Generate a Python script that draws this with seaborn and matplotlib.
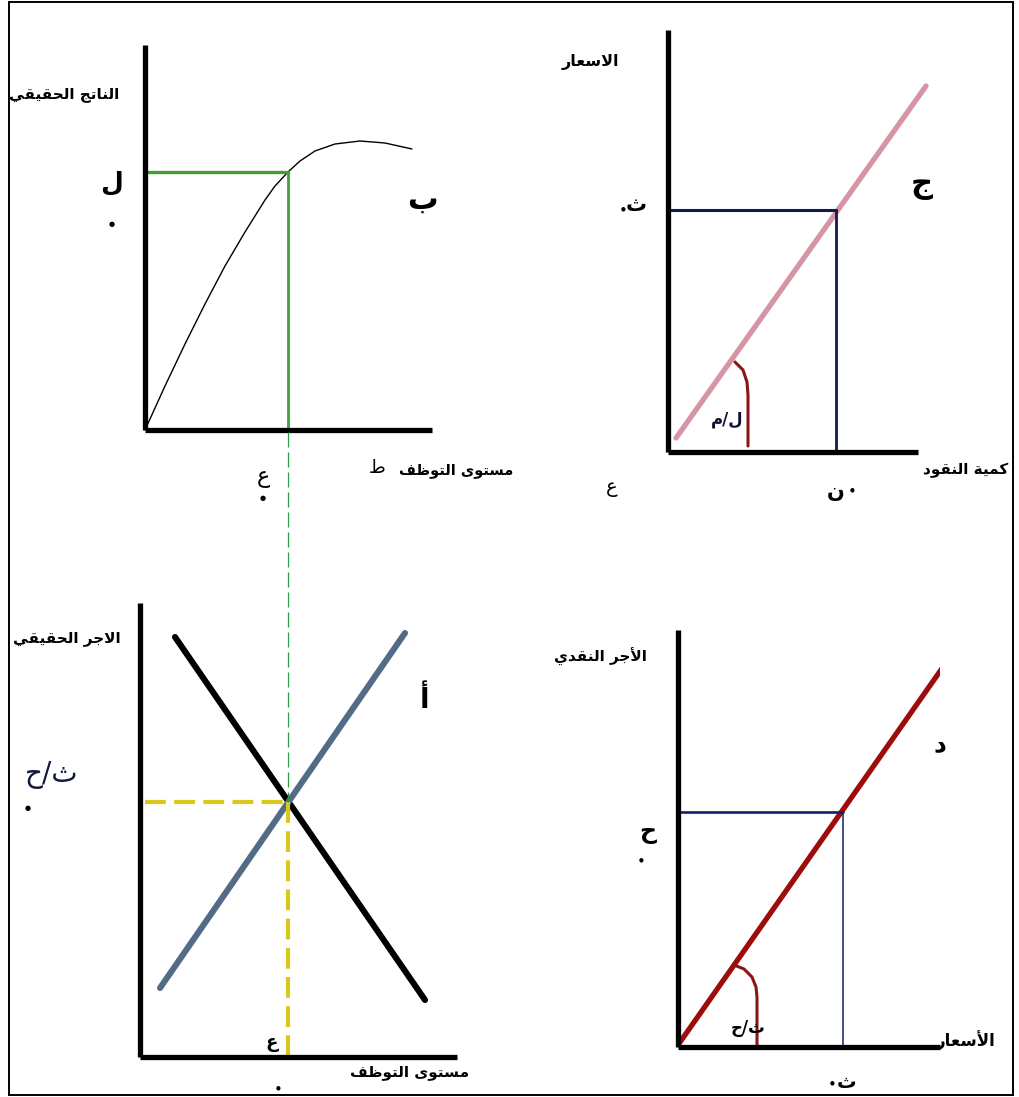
import matplotlib
matplotlib.use("Agg")
import matplotlib.pyplot as plt
from matplotlib.patches import Rectangle
import seaborn as sns

# ---------------------------------------------------------------------------
# Data (each panel uses its own units; 1 unit = 10 px of its axes)
# ---------------------------------------------------------------------------
# Panel b: production function  (employment -> real output)
prod_emp = [0.0, 2.0, 4.0, 6.0, 8.0, 10.0, 12.0, 13.0, 14.3, 15.5, 17.0, 19.0, 21.5, 24.0, 26.7]
prod_out = [0.0, 4.4, 8.6, 12.6, 16.4, 19.8, 23.0, 24.4, 25.8, 26.9, 27.9, 28.6, 28.9, 28.7, 28.1]
emp_eq_b = 14.3
out_eq = 25.8

# Panel c: prices vs quantity of money
money_line = [0.8, 25.8]
price_line = [1.4, 36.6]
money_eq = 16.8
price_eq = 24.2
angle_c_x = [6.7, 7.5, 7.9, 8.0, 8.0]
angle_c_y = [9.0, 8.2, 7.0, 5.7, 0.6]

# Panel a: labour market (real wage vs employment)
demand_emp = [3.5, 28.5]
demand_wage = [42.0, 5.7]
supply_emp = [2.0, 26.5]
supply_wage = [6.9, 42.4]
emp_eq_a = 14.8
wage_eq = 25.5

# Panel d: money wage vs prices
wage_line_p = [0.0, 26.5]
wage_line_w = [0.2, 38.0]
price_eq_d = 16.5
money_wage_eq = 23.5
angle_d_x = [5.6, 6.6, 7.4, 7.8, 7.9, 7.9]
angle_d_y = [8.2, 7.8, 7.0, 6.0, 5.0, 0.2]

# ---------------------------------------------------------------------------
# Minimal Arabic contextual shaping so glyphs join and read right-to-left
# ---------------------------------------------------------------------------
FORMS = {}
for _ch, _c in [("ئ", 0xFE89), ("ب", 0xFE8F), ("ت", 0xFE95), ("ث", 0xFE99), ("ج", 0xFE9D),
                ("ح", 0xFEA1), ("خ", 0xFEA5), ("س", 0xFEB1), ("ش", 0xFEB5), ("ص", 0xFEB9),
                ("ض", 0xFEBD), ("ط", 0xFEC1), ("ظ", 0xFEC5), ("ع", 0xFEC9), ("غ", 0xFECD),
                ("ف", 0xFED1), ("ق", 0xFED5), ("ك", 0xFED9), ("ل", 0xFEDD), ("م", 0xFEE1),
                ("ن", 0xFEE5), ("ه", 0xFEE9), ("ي", 0xFEF1)]:
    FORMS[_ch] = tuple(chr(_c + k) for k in range(4))
for _ch, _c in [("آ", 0xFE81), ("أ", 0xFE83), ("ؤ", 0xFE85), ("إ", 0xFE87), ("ا", 0xFE8D),
                ("ة", 0xFE93), ("د", 0xFEA9), ("ذ", 0xFEAB), ("ر", 0xFEAD), ("ز", 0xFEAF),
                ("و", 0xFEED), ("ى", 0xFEEF)]:
    FORMS[_ch] = (chr(_c), chr(_c + 1))
FORMS["ء"] = ("\uFE80",)
LAM_ALEF = {"ا": ("\uFEFB", "\uFEFC"), "أ": ("\uFEF7", "\uFEF8"),
            "إ": ("\uFEF9", "\uFEFA"), "آ": ("\uFEF5", "\uFEF6")}


def _dual(c):
    return isinstance(c, str) and c in FORMS and len(FORMS[c]) == 4


def _arabic(c):
    return isinstance(c, tuple) or c in FORMS


def shape(text):
    units = []
    i = 0
    while i < len(text):
        c = text[i]
        if c == "ل" and i + 1 < len(text) and text[i + 1] in LAM_ALEF:
            units.append(("LA", text[i + 1]))
            i += 2
        else:
            units.append(c)
            i += 1
    out = []
    for k, c in enumerate(units):
        prev = units[k - 1] if k > 0 else None
        nxt = units[k + 1] if k + 1 < len(units) else None
        jp = prev is not None and _dual(prev)
        if isinstance(c, tuple):
            out.append(LAM_ALEF[c[1]][1 if jp else 0])
            continue
        if c not in FORMS:
            out.append(c)
            continue
        f = FORMS[c]
        jn = nxt is not None and _arabic(nxt) and _dual(c)
        if len(f) == 1:
            out.append(f[0])
        elif len(f) == 2:
            out.append(f[1] if jp else f[0])
        else:
            if jp and jn:
                out.append(f[3])
            elif jp:
                out.append(f[1])
            elif jn:
                out.append(f[2])
            else:
                out.append(f[0])
    return "".join(reversed(out))


# ---------------------------------------------------------------------------
# Figure
# ---------------------------------------------------------------------------
sns.set_theme(style="white")
plt.rcParams["font.family"] = ["DejaVu Sans"]

W, H = 1020, 1097
fig = plt.figure(figsize=(W / 100, H / 100), dpi=100)
fig.patch.set_facecolor("white")


def panel(left, top, right, bottom):
    ax = fig.add_axes([left / W, 1 - bottom / H, (right - left) / W, (bottom - top) / H])
    ax.set_xlim(0, (right - left) / 10)
    ax.set_ylim(0, (bottom - top) / 10)
    for s in ("top", "right"):
        ax.spines[s].set_visible(False)
    for s in ("left", "bottom"):
        ax.spines[s].set_color("black")
        ax.spines[s].set_linewidth(3.8)
        ax.spines[s].set_capstyle("butt")
    ax.set_xticks([])
    ax.set_yticks([])
    ax.set_facecolor("none")
    ax.set_xlabel("")
    ax.set_ylabel("")
    return ax


def line(ax, x, y, **kw):
    sns.lineplot(x=x, y=y, ax=ax, estimator=None, sort=False, legend=False, **kw)


def label(px, py, s, size=12, weight="bold", color="black", **kw):
    fig.text(px / W, 1 - py / H, shape(s), fontsize=size,
             fontweight=weight, color=color, ha="center", va="center", **kw)


def dot(px, py, size=5, color="black"):
    fig.text(px / W, 1 - py / H, "\u25CF", fontsize=size, color=color,
             ha="center", va="center")


# Panel b (top-left)
ax_b = panel(145, 45, 432, 430)
line(ax_b, prod_emp, prod_out, color="black", linewidth=1.0)
line(ax_b, [0, emp_eq_b], [out_eq, out_eq], color="#3f9f2f", linewidth=2.4)
line(ax_b, [emp_eq_b, emp_eq_b], [out_eq, 0], color="#3fa040", linewidth=2.0)

# Panel c (top-right)
ax_c = panel(668, 30, 918, 452)
line(ax_c, money_line, price_line, color="#d595a4", linewidth=3.8)
ax_c.lines[-1].set_clip_on(False)
line(ax_c, [0, money_eq], [price_eq, price_eq], color="#101a50", linewidth=2.2)
line(ax_c, [money_eq, money_eq], [price_eq, 0], color="#101a50", linewidth=2.0)
line(ax_c, angle_c_x, angle_c_y, color="#8b1515", linewidth=2.2)

# Panel a (bottom-left)
ax_a = panel(140, 603, 457, 1057)
line(ax_a, demand_emp, demand_wage, color="black", linewidth=4.4)
line(ax_a, supply_emp, supply_wage, color="#536b86", linewidth=4.4)
line(ax_a, [0.5, emp_eq_a], [wage_eq, wage_eq], color="#d9c81c", linewidth=3.0,
     linestyle=(0, (5, 2)))
line(ax_a, [emp_eq_a, emp_eq_a], [wage_eq, 0], color="#d9c81c", linewidth=3.0,
     linestyle=(0, (5, 2)))
# employment level carried down from panel b
line(ax_a, [emp_eq_a, emp_eq_a], [62.5, wage_eq], color="#2f9a45", linewidth=0.9,
     linestyle=(0, (12, 4)))
ax_a.lines[-1].set_clip_on(False)

# Panel d (bottom-right)
ax_d = panel(678, 630, 940, 1047)
line(ax_d, wage_line_p, wage_line_w, color="#9e0b0b", linewidth=3.8)
line(ax_d, [0, price_eq_d], [money_wage_eq, money_wage_eq], color="#14206a", linewidth=1.9)
line(ax_d, [price_eq_d, price_eq_d], [money_wage_eq, 0], color="#14206a", linewidth=1.1)
line(ax_d, angle_d_x, angle_d_y, color="#8b1515", linewidth=2.2)

# ---------------------------------------------------------------------------
# Texts
# ---------------------------------------------------------------------------
# panel b
label(64, 95, "الناتج الحقيقي", size=11)
label(112, 183, "ل", size=19)
dot(112, 224, size=5)
label(422, 200, "ب", size=22)
label(263, 478, "ع", size=16, weight="normal")
dot(263, 498, size=5)
label(377, 468, "ط", size=13, weight="normal")
label(456, 470, "مستوى التوظف", size=10.5)

# panel c
label(590, 62, "الاسعار", size=11.5)
label(636, 205, "ث", size=15)
dot(623, 209, size=4)
label(922, 185, "ج", size=22)
label(727, 420, "ل/م", size=12, color="#111133")
label(612, 487, "ع", size=14, weight="normal")
label(966, 470, "كمية النقود", size=11)
label(836, 492, "ن", size=15)
dot(852, 490, size=4)

# panel a
label(67, 638, "الاجر الحقيقي", size=11)
label(52, 775, "ث/ح", size=20, weight="normal", color="#121a40")
dot(28, 808, size=5)
label(425, 700, "أ", size=20)
label(272, 1043, "ع", size=13)
dot(278, 1088, size=4)
label(410, 1073, "مستوى التوظف", size=11)

# panel d
label(600, 657, "الأجر النقدي", size=11)
label(648, 832, "ح", size=17)
dot(641, 860, size=4)
label(940, 745, "د", size=18)
label(748, 1028, "ث/ح", size=12)
label(966, 1040, "الأسعار", size=12)
label(846, 1082, "ث", size=14)
dot(832, 1083, size=4)

# outer frame
fig.add_artist(Rectangle((9 / W, 2 / H), (1013 - 9) / W, (1095 - 2) / H,
                         transform=fig.transFigure, fill=False,
                         edgecolor="black", linewidth=1.4))

fig.savefig("out.png", dpi=100, facecolor="white")
